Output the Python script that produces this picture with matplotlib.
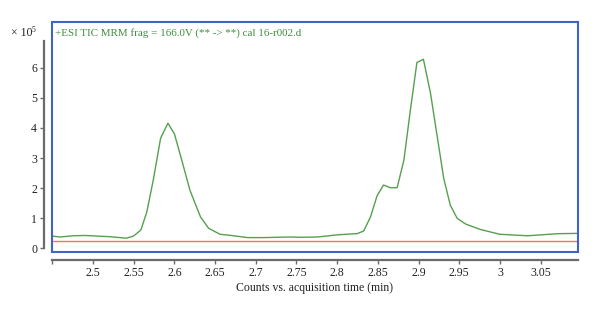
import matplotlib
matplotlib.use("Agg")
import matplotlib.pyplot as plt
from matplotlib.patches import Rectangle

# data (x in min, y in counts x10^5)
tic_time = [2.4495, 2.46, 2.475, 2.49, 2.505, 2.52, 2.533, 2.541, 2.5496, 2.5587, 2.566,
            2.574, 2.583, 2.592, 2.600, 2.609, 2.619, 2.632, 2.642, 2.656, 2.67, 2.69,
            2.71, 2.742, 2.755, 2.776, 2.80, 2.816, 2.8245, 2.8326, 2.841, 2.849, 2.857,
            2.8655, 2.8737, 2.882, 2.890, 2.898, 2.906, 2.9147, 2.923, 2.931, 2.939,
            2.9475, 2.958, 2.976, 3.0, 3.034, 3.071, 3.096]
tic_counts = [0.40, 0.37, 0.41, 0.42, 0.40, 0.38, 0.35, 0.33, 0.40, 0.60, 1.20,
              2.27, 3.66, 4.16, 3.80, 2.93, 1.93, 1.04, 0.66, 0.46, 0.42, 0.35,
              0.35, 0.37, 0.36, 0.37, 0.44, 0.47, 0.48, 0.57, 1.04, 1.74, 2.10,
              2.01, 2.01, 2.93, 4.60, 6.18, 6.29, 5.16, 3.71, 2.32, 1.43,
              0.99, 0.80, 0.62, 0.46, 0.41, 0.48, 0.49]
ref_time = [2.4495, 3.096]
ref_counts = [0.23, 0.23]

xticks = [2.45, 2.5, 2.55, 2.6, 2.65, 2.7, 2.75, 2.8, 2.85, 2.9, 2.95, 3.0, 3.05]
xticklabels = ["", "2.5", "2.55", "2.6", "2.65", "2.7", "2.75", "2.8", "2.85", "2.9", "2.95", "3", "3.05"]
yticks = [0, 1, 2, 3, 4, 5, 6]
yticklabels = ["0", "1", "2", "3", "4", "5", "6"]

title = "+ESI TIC MRM frag = 166.0V (** -> **) cal 16-r002.d"
xlabel = "Counts vs. acquisition time (min)"

plt.rcParams['font.family'] = ['Liberation Serif', 'DejaVu Serif']

fig = plt.figure(figsize=(6, 3.14), dpi=100)
ax = fig.add_axes([52/600, 1-252/314, 526/600, 230/314])

green = "#55a04e"
title_green = "#3f8f3f"
orange = "#f0764f"
blue = "#3d64c6"
gray = "#6b6b6b"

ax.plot(tic_time, tic_counts, color=green, lw=1.0)
ax.plot(ref_time, ref_counts, color=orange, lw=1.0)

ax.set_xlim(2.4495, 3.096)
ax.set_ylim(-0.13, 7.53)

for s in ["top", "right"]:
    ax.spines[s].set_visible(False)
for s in ["left", "bottom"]:
    ax.spines[s].set_position(("outward", 5.8))
    ax.spines[s].set_color(gray)
    ax.spines[s].set_linewidth(1.6)
ax.spines["left"].set_bounds(0, 6.9)
ax.spines["bottom"].set_bounds(2.45, 3.096)

ax.add_patch(Rectangle((0, 0), 1, 1, transform=ax.transAxes, fill=False,
                       edgecolor=blue, lw=1.5, clip_on=False, zorder=5))

ax.set_xticks(xticks)
ax.set_xticklabels(xticklabels)
ax.set_yticks(yticks)
ax.set_yticklabels(yticklabels)
ax.tick_params(axis="both", direction="out", length=3, width=1, color=gray,
               labelsize=8.5, pad=2, labelcolor="#222222")

ax.text(0.006, 0.95, title, transform=ax.transAxes, color=title_green, fontsize=7.9,
        va="center", ha="left")
fig.text(315/600, 1-288/314, xlabel, ha="center", va="center", fontsize=8.5, color="#222222")
fig.text(11/600, 1-33/314, "× 10", ha="left", va="center", fontsize=8.5, color="#222222")
fig.text(32/600, 1-30/314, "5", ha="left", va="center", fontsize=5.5, color="#222222")

fig.savefig("out.png", dpi=100)
